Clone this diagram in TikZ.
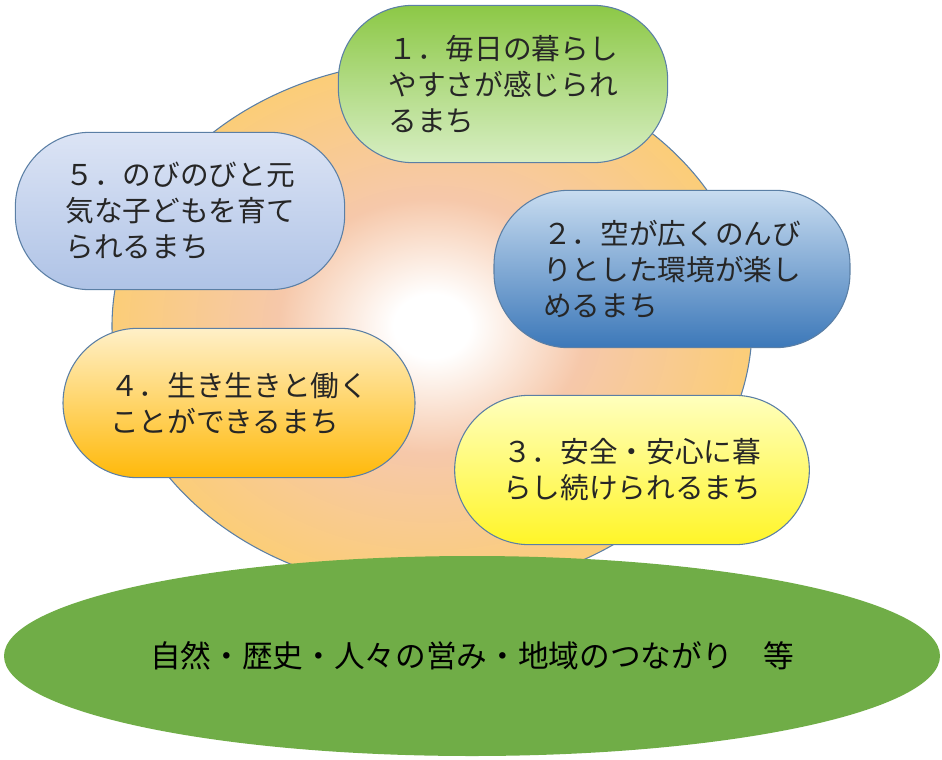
\documentclass[tikz,border=0pt]{standalone}
\usepackage{fontspec}
\newfontfamily\jp{Noto Sans CJK JP}
\usetikzlibrary{shapes.geometric}
\definecolor{edge}{HTML}{5B7FA5}
\definecolor{sunpink}{RGB}{246,200,170}
\definecolor{sunorange}{RGB}{251,205,120}
\pgfdeclareradialshading{sunshade}{\pgfpoint{0bp}{0bp}}{color(0bp)=(white); color(3bp)=(white); color(12bp)=(sunpink); color(25bp)=(sunorange); color(50bp)=(sunorange)}
\tikzset{
 box/.style={draw=edge, line width=0.8pt, rounded corners=56pt, font=\jp\fontsize{21.5}{27}\selectfont, align=left, inner sep=0pt, text=black!85},
}
\begin{document}
\begin{tikzpicture}[x=0.75pt,y=-0.75pt]
\useasboundingbox (0,0) rectangle (942,760);
\node[ellipse, draw=edge, line width=0.8pt, minimum width=480pt, minimum height=398pt, shading=sunshade] (sun) at (432,326) {};
\node[ellipse, fill={rgb,255:red,112;green,173;blue,71}, minimum width=702pt, minimum height=150pt, font=\jp\fontsize{23}{27}\selectfont] (ground) at (472,656) {自然・歴史・人々の営み・地域のつながり　等};
\node[box, minimum width=247pt, minimum height=118pt, top color={rgb,255:red,140;green,200;blue,70}, bottom color={rgb,255:red,215;green,238;blue,195}] (b1) at (503,84) {１．毎日の暮らし\\やすさが感じられ\\るまち};
\node[box, minimum width=267pt, minimum height=118pt, top color={rgb,255:red,200;green,220;blue,240}, bottom color={rgb,255:red,60;green,120;blue,185}] (b2) at (672,269) {２．空が広くのんび\\りとした環境が楽し\\めるまち};
\node[box, minimum width=266pt, minimum height=112pt, top color={rgb,255:red,255;green,255;blue,190}, bottom color={rgb,255:red,255;green,245;blue,40}] (b3) at (632,470) {３．安全・安心に暮\\らし続けられるまち};
\node[box, minimum width=264pt, minimum height=112pt, top color={rgb,255:red,255;green,240;blue,200}, bottom color={rgb,255:red,255;green,185;blue,10}] (b4) at (239,403) {４．生き生きと働く\\ことができるまち};
\node[box, minimum width=247pt, minimum height=118pt, top color={rgb,255:red,220;green,228;blue,245}, bottom color={rgb,255:red,175;green,195;blue,230}] (b5) at (180,211) {５．のびのびと元\\気な子どもを育て\\られるまち};
\end{tikzpicture}
\end{document}
